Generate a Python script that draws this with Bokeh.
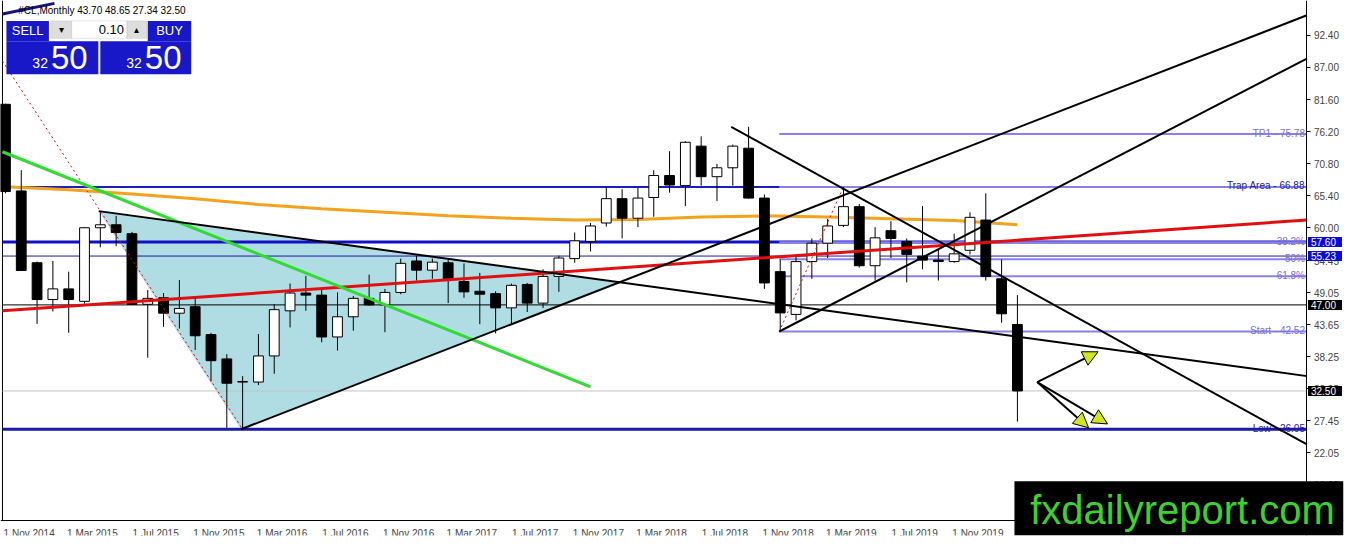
import pandas as pd
from bokeh.embed import file_html
from bokeh.models import (Arrow, BoxAnnotation, ColumnDataSource, FixedTicker, Label, LinearAxis,
                          NormalHead, PrintfTickFormatter, Range1d)
from bokeh.plotting import figure
from bokeh.resources import INLINE

# #CL monthly candles, Nov 2014 .. Mar 2020
opens = [80.8, 66.2, 54.1, 47.9, 49.7, 47.6, 60.0, 60.5, 59.0, 47.1,
         48.2, 45.6, 46.7, 42.0, 37.9, 34.1, 34.0, 38.4, 46.0, 49.0,
         48.65, 41.6, 45.0, 48.1, 47.0, 49.1, 54.4, 52.85, 54.1, 50.95,
         49.3, 48.9, 46.5, 50.45, 47.3, 51.8, 54.8, 57.7, 60.8, 64.9,
         61.6, 65.1, 68.8, 67.1, 73.75, 68.6, 70.1, 73.4, 65.0, 52.6,
         45.4, 54.3, 57.4, 60.4, 63.55, 53.6, 59.5, 57.7, 55.2, 54.55,
         54.3, 56.2, 61.3, 51.4, 43.70]
highs = [80.9, 69.7, 54.3, 54.4, 52.6, 60.1, 62.8, 62.0, 59.3, 49.5,
         49.0, 51.2, 48.4, 42.3, 38.7, 35.0, 42.1, 47.1, 50.6, 51.9,
         49.5, 49.1, 48.5, 52.1, 49.7, 54.8, 55.3, 54.8, 54.8, 54.0,
         52.4, 49.3, 50.6, 50.7, 53.0, 55.3, 59.2, 60.8, 66.9, 66.5,
         66.7, 69.7, 72.9, 74.6, 75.4, 70.75, 74.0, 77.0, 65.6, 54.65,
         55.5, 58.2, 61.5, 66.88, 64.0, 60.1, 61.1, 58.2, 63.65, 56.4,
         59.0, 62.6, 65.8, 54.65, 48.65]
lows = [65.8, 52.7, 43.8, 45.9, 42.3, 47.2, 56.7, 56.9, 47.0, 38.1,
        43.3, 43.0, 39.4, 34.1, 26.3, 26.05, 33.5, 35.4, 43.2, 46.0,
        40.7, 39.3, 42.65, 46.9, 42.4, 48.8, 51.1, 51.4, 47.3, 48.2,
        43.75, 42.2, 43.85, 45.8, 46.5, 49.2, 54.1, 56.0, 60.2, 58.2,
        60.1, 61.85, 65.9, 63.65, 67.1, 64.5, 67.1, 64.9, 49.7, 42.52,
        44.4, 51.4, 54.9, 60.1, 53.3, 51.1, 54.9, 50.8, 53.0, 51.1,
        54.1, 55.5, 51.1, 44.0, 27.34]
closes = [66.1, 52.8, 47.9, 49.7, 47.9, 60.0, 60.5, 59.2, 47.1, 48.1,
          45.6, 46.4, 41.8, 37.6, 33.8, 34.0, 38.4, 46.2, 49.0, 48.65,
          41.6, 45.0, 48.1, 47.0, 49.1, 54.0, 52.85, 54.2, 51.4, 49.2,
          48.8, 46.5, 50.3, 47.3, 51.8, 54.9, 57.8, 60.3, 64.9, 61.6,
          65.0, 68.8, 67.2, 74.4, 68.6, 70.1, 73.75, 65.0, 50.7, 45.65,
          54.3, 57.4, 60.3, 63.55, 53.6, 58.3, 58.2, 55.5, 54.55, 54.3,
          55.6, 61.75, 51.8, 45.5, 32.50]
dates = pd.date_range("2014-11-01", periods=len(opens), freq="MS")

# orange moving average, every 4th bar
ma_bar = [0, 4, 8, 12, 16, 20, 24, 28, 32, 36, 40, 44, 48, 52, 56, 60, 64]
ma_val = [66.9, 66.4, 65.7, 64.9, 63.9, 63.2, 62.6, 62.0, 61.6, 61.3,
          61.4, 61.8, 62.0, 61.8, 61.5, 61.2, 60.5]

# trendlines as (bar, bar), (price, price)
upper_tl = ([5.9, 82.31], [62.8, 35.0])
lower_tl = ([14.9, 82.31], [26.05, 95.8])
channel_tl = ([48.94, 82.31], [42.52, 88.5])
down_tl = ([45.9, 82.31], [77.0, 23.5])
green_tl = ([-0.19, 37.0], [72.8, 33.2])
red_tl = ([-0.19, 82.31], [46.0, 61.3])
navy_tl = ([-0.19, 3.1], [96.0, 97.8])
dot_2015 = ([-0.19, 15.0], [88.1, 26.05])
dot_fib = ([48.94, 53.0], [42.52, 66.88])

# full width levels
h_levels = [66.88, 57.60, 55.23, 47.00, 32.50, 26.05]
h_colors = ["#1c1cc4", "#1010c8", "#1a1aa8", "black", "#c4c4c4", "#1a1aa8"]
h_widths = [2, 3, 1, 1, 1, 3]

# fibo levels
fib_levels = [75.78, 66.88, 57.57, 54.70, 51.83, 42.52]
fib_texts = ["TP1 - 75.78", "Trap Area - 66.88", "38.2%", "50%", "61.8%", "Start - 42.52"]
fib_start = 48.94

# price tags on the scale
tag_prices = [57.60, 55.23, 47.00, 32.50]
tag_colors = ["#0a0ae0", "#0a0ae0", "black", "black"]

arrow_from = (65.25, 34.0)
arrow_to_x = [69.1, 69.7, 68.5]
arrow_to_y = [39.1, 26.95, 26.3]

y_ticks = [92.40, 87.00, 81.60, 76.20, 70.80, 65.40, 60.00, 54.45, 49.05,
           43.65, 38.25, 32.85, 27.45, 22.05, 16.65]
x_tick_bars = list(range(0, 61, 4))


def bx(px):  # chart pixel -> bar number
    return (px - 5) / 16.0


def py(pix):  # chart pixel -> price
    return 60.0 - (pix - 234) / 6.112


X_LEFT, X_RIGHT = bx(2), bx(1322)     # chart window edges
Y_BOTTOM = py(535)
W, H, PAD = 1346, 538, 3

# the frame covers nearly the whole canvas, scales sit at fixed places inside it
p = figure(width=W, height=H,
           x_range=Range1d(bx(0), bx(1362 * (W - PAD) / W)),
           y_range=Range1d(py(554 * (H - PAD) / H), py(0)),
           x_axis_location=None, y_axis_location=None,
           toolbar_location=None, output_backend="svg",
           min_border_left=0, min_border_top=0, min_border_right=PAD, min_border_bottom=PAD,
           outline_line_color=None)
p.grid.visible = False

yax = LinearAxis(fixed_location=X_RIGHT, ticker=FixedTicker(ticks=y_ticks),
                 formatter=PrintfTickFormatter(format="%.2f"))
yax.major_label_text_font = "Liberation Sans"
yax.major_label_text_font_size = "10px"
yax.major_tick_in = 0
yax.major_tick_out = 4
yax.minor_tick_line_color = None
yax.major_label_standoff = 3
p.add_layout(yax, "right")

xax = LinearAxis(fixed_location=Y_BOTTOM, ticker=FixedTicker(ticks=[i + 1.5 for i in x_tick_bars]))
xax.major_label_overrides = {i + 1.5: "1 " + dates[i].strftime("%b %Y") for i in x_tick_bars}
xax.major_label_text_font = "Liberation Sans"
xax.major_label_text_font_size = "10px"
xax.major_tick_line_color = None
xax.minor_tick_line_color = None
xax.major_label_standoff = 2
p.add_layout(xax, "below")

# left edge of the chart window
p.segment(x0=[X_LEFT], y0=[Y_BOTTOM], x1=[X_LEFT], y1=[py(0)], line_color="black", line_width=1)


# triangle
def slope(tl):
    return (tl[1][1] - tl[1][0]) / (tl[0][1] - tl[0][0])


s1, s2 = slope(upper_tl), slope(lower_tl)
ax = (lower_tl[1][0] - upper_tl[1][0] + s1 * upper_tl[0][0] - s2 * lower_tl[0][0]) / (s1 - s2)
ay = upper_tl[1][0] + s1 * (ax - upper_tl[0][0])
p.patch([upper_tl[0][0], lower_tl[0][0], ax], [upper_tl[1][0], lower_tl[1][0], ay],
        fill_color="#b0dde4", line_color=None)

for lvl, c, w in zip(h_levels, h_colors, h_widths):
    p.segment(x0=[X_LEFT], y0=[lvl], x1=[X_RIGHT], y1=[lvl], line_color=c, line_width=w)

n = len(fib_levels)
p.segment(x0=[fib_start] * n, y0=fib_levels, x1=[X_RIGHT] * n, y1=fib_levels,
          line_color="#8a80e8", line_width=2)

p.line(ma_bar, ma_val, line_color="#f2a31b", line_width=3)

src = ColumnDataSource(dict(
    i=list(range(len(opens))), h=highs, l=lows,
    top=[max(o, c) for o, c in zip(opens, closes)],
    bot=[min(o, c) for o, c in zip(opens, closes)],
    fill=["white" if c >= o else "black" for o, c in zip(opens, closes)],
))
p.segment(x0="i", y0="h", x1="i", y1="l", source=src, line_color="black", line_width=1)
p.vbar(x="i", width=0.62, top="top", bottom="bot", fill_color="fill",
       line_color="black", line_width=1, source=src)

p.line(*dot_2015, line_color="#d01010", line_width=1, line_dash="2 3")
p.line(*dot_fib, line_color="#d01010", line_width=1, line_dash="2 3")
p.line(*red_tl, line_color="#e01010", line_width=3)
p.line(*green_tl, line_color="#2fdc2f", line_width=3)
for tl in (upper_tl, lower_tl, channel_tl, down_tl):
    p.line(*tl, line_color="black", line_width=2)
p.line(*navy_tl, line_color="#14147c", line_width=3)

for tx, ty in zip(arrow_to_x, arrow_to_y):
    p.add_layout(Arrow(end=NormalHead(size=15, fill_color="#d2e61c", line_color="black", line_width=1),
                       x_start=arrow_from[0], y_start=arrow_from[1], x_end=tx, y_end=ty,
                       line_color="black", line_width=2))

for lvl, t in zip(fib_levels + [26.05], fib_texts + ["Low - 26.05"]):
    dark = t.startswith("Trap") or t.startswith("Low")
    p.add_layout(Label(x=bx(1320), y=lvl, text=t, text_align="right", text_baseline="alphabetic",
                       y_offset=1, text_font="Liberation Sans", text_font_size="10px",
                       text_color="#2020a0" if dark else "#7a70dc"))

# header and trade panel
p.add_layout(Label(x=bx(18), y=py(10), text="#CL,Monthly  43.70 48.65 27.34 32.50",
                   text_baseline="middle", text_font="Liberation Sans", text_font_size="10px",
                   text_color="black"))

blue = "#1818c8"
for l_, r_, t_, b_, c in [(6, 49, 21, 42, blue), (6, 99, 42, 76, blue),
                          (149, 193, 21, 42, blue), (101, 193, 42, 76, blue),
                          (51, 72, 21, 39, "#dedede"), (72, 128, 21, 39, "white"),
                          (128, 148, 21, 39, "#dedede")]:
    p.add_layout(BoxAnnotation(left=bx(l_), right=bx(r_), top=py(t_), bottom=py(b_),
                               fill_color=c, fill_alpha=1,
                               line_color="#a8a8a8" if c != blue else None, line_width=1))

for x_, y_, t, sz, al, col in [(27.5, 31, "SELL", "13px", "center", "white"),
                               (171, 31, "BUY", "13px", "center", "white"),
                               (62, 30, "\u25be", "10px", "center", "black"),
                               (138, 30, "\u25b4", "10px", "center", "black"),
                               (125, 30, "0.10", "13px", "right", "black"),
                               (48, 64, "32", "14px", "right", "white"),
                               (51, 59, "50", "33px", "left", "white"),
                               (143, 64, "32", "14px", "right", "white"),
                               (146, 59, "50", "33px", "left", "white")]:
    p.add_layout(Label(x=bx(x_), y=py(y_), text=t, text_align=al, text_baseline="middle",
                       text_font="Liberation Sans", text_font_size=sz, text_color=col))

# things that sit over the price scale and the date scale
for pr, c in zip(tag_prices, tag_colors):
    p.add_layout(Label(x=bx(1323), y=pr, text="%.2f" % pr, text_align="left", text_baseline="middle",
                       text_font="Liberation Sans", text_font_size="10px", text_color="white",
                       background_fill_color=c, padding=dict(left=3, right=6, top=1, bottom=1)))

p.add_layout(BoxAnnotation(left=bx(1026), right=p.x_range.end, top=py(495), bottom=p.y_range.start,
                           fill_color="black", fill_alpha=1, line_color=None))
p.add_layout(Label(x=bx(1042), y=py(502), text="fxdailyreport.com", text_baseline="top",
                   text_font="Liberation Sans", text_font_size="40px", text_color="#3bd22a"))

open("out.html", "w").write(file_html(p, INLINE))
